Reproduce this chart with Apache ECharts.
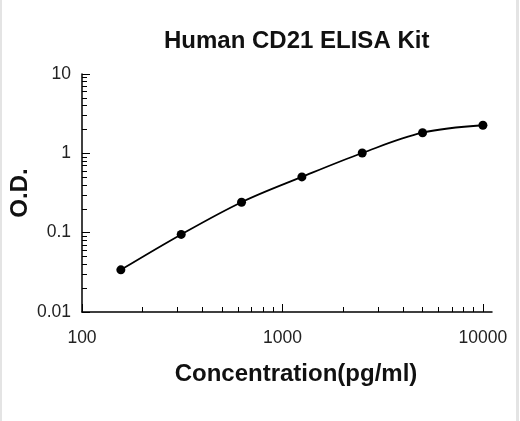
<!DOCTYPE html>
<html>
<head>
<meta charset="utf-8">
<script src="https://cdn.jsdelivr.net/npm/echarts@6/dist/echarts.min.js"></script>
<style>
    html, body { margin: 0; padding: 0; background: #fff; }
    #wrap { position: relative; width: 520px; height: 421px; }
    #chart { width: 520px; height: 421px; }
    .edge { position: absolute; top: 0; height: 421px; background: #e4e4e4; }
</style>
</head>
<body>
<div id="wrap">
    <div id="chart"></div>
    <div class="edge" style="left:0;width:2px"></div>
    <div class="edge" style="left:516px;width:3px"></div>
</div>
<script>
// standard curve points
var concentration = [156.25, 312.5, 625, 1250, 2500, 5000, 10000];
var odValues = [0.034, 0.095, 0.242, 0.504, 1.01, 1.82, 2.26];

// axis ticks
var xTicks = [100, 1000, 10000];
var xTickLabels = ['100', '1000', '10000'];
var yTicks = [0.01, 0.1, 1, 10];
var yTickLabels = ['0.01', '0.1', '1', '10'];
var xMax = 11100;   // axis line runs a bit past 10000

function minorTicks(ticks) {
    var out = [];
    for (var i = 0; i < ticks.length - 1; i++) {
        for (var k = 2; k <= 9; k++) {
            out.push(Math.log10(ticks[i] * k));
        }
    }
    return out;
}

var font = 'Liberation Sans';
var xMajor = xTicks.map(Math.log10);
var yMajor = yTicks.map(Math.log10);

// overlay value axes (log10 space) only carry ticks and labels
function tickAxis(min, max, values, len, labels) {
    return {
        type: 'value',
        min: min,
        max: max,
        gridIndex: 0,
        axisLine: { show: false, onZero: false },
        splitLine: { show: false },
        axisTick: { show: true, inside: true, length: len, customValues: values,
            lineStyle: { color: '#000', width: 1 } },
        axisLabel: labels ? {
            show: true,
            customValues: values,
            color: '#222',
            fontFamily: font,
            fontSize: 17.5,
            formatter: function (v) {
                var idx = values.findIndex(function (t) { return Math.abs(t - v) < 1e-6; });
                return labels[idx];
            }
        } : { show: false }
    };
}

var myChart = echarts.init(document.getElementById('chart'));

var xa1 = tickAxis(Math.log10(xTicks[0]), Math.log10(xMax), xMajor, 8, xTickLabels);
xa1.position = 'bottom';
xa1.axisLabel.margin = 17;
var xa2 = tickAxis(Math.log10(xTicks[0]), Math.log10(xMax), minorTicks(xTicks), 5, null);
xa2.position = 'bottom';
var ya1 = tickAxis(yMajor[0], yMajor[yMajor.length - 1], yMajor, 8, yTickLabels);
ya1.position = 'left';
ya1.axisLabel.margin = 11;
var ya2 = tickAxis(yMajor[0], yMajor[yMajor.length - 1], minorTicks(yTicks), 5, null);
ya2.position = 'left';

var option = {
    animation: false,
    backgroundColor: '#fff',
    title: {
        text: 'Human CD21 ELISA Kit',
        left: 164,
        top: 29,
        padding: 0,
        textStyle: { fontFamily: font, fontSize: 24, fontWeight: 'bold', color: '#111' }
    },
    grid: { left: 79, right: 28, top: 74, bottom: 109 },
    xAxis: [
        {
            type: 'log',
            logBase: 10,
            min: xTicks[0],
            max: xMax,
            position: 'bottom',
            name: 'Concentration(pg/ml)',
            nameLocation: 'middle',
            nameGap: 50,
            nameTextStyle: { fontFamily: font, fontSize: 24, fontWeight: 'bold', color: '#111', padding: [0, 0, 0, 18] },
            axisLine: { show: true, onZero: false, lineStyle: { color: '#000', width: 1.5 } },
            axisTick: { show: false },
            axisLabel: { show: false },
            splitLine: { show: false }
        },
        xa1,
        xa2
    ],
    yAxis: [
        {
            type: 'log',
            logBase: 10,
            min: yTicks[0],
            max: yTicks[yTicks.length - 1],
            position: 'left',
            name: 'O.D.',
            nameLocation: 'middle',
            nameGap: 50,
            nameTextStyle: { fontFamily: font, fontSize: 24, fontWeight: 'bold', color: '#111' },
            axisLine: { show: true, onZero: false, lineStyle: { color: '#000', width: 1.5 } },
            axisTick: { show: false },
            axisLabel: { show: false },
            splitLine: { show: false }
        },
        ya1,
        ya2
    ],
    series: [
        {
            type: 'line',
            xAxisIndex: 0,
            yAxisIndex: 0,
            smooth: 0.35,
            symbol: 'circle',
            symbolSize: 9,
            itemStyle: { color: '#000' },
            lineStyle: { color: '#000', width: 1.8 },
            data: concentration.map(function (c, i) { return [c, odValues[i]]; })
        }
    ]
};

myChart.setOption(option);
</script>
</body>
</html>
